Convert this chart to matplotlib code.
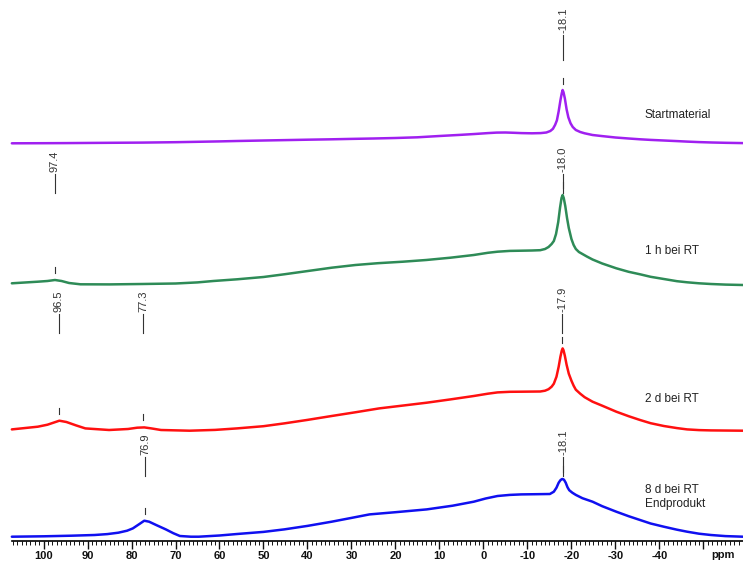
import numpy as np
import matplotlib
matplotlib.use("Agg")
import matplotlib.pyplot as plt

plt.rcParams['font.family'] = ['Liberation Sans', 'DejaVu Sans']

# ---------------- data (ppm, intensity above each trace's baseline) ----------------
ppm_start = [107.2, 100, 95, 85, 77.6, 70, 65, 60, 56, 50, 45, 40, 34.5, 30, 25, 20, 15, 10, 5, 2,
             -1, -3, -5, -7, -8.6, -11, -13, -14.3, -15.2, -15.8, -16.3, -16.7, -17.1, -17.5, -17.8,
             -18.0, -18.2, -18.5, -18.9, -19.3, -19.8, -20.3, -21, -22, -23, -24.8, -27, -30, -33,
             -35.6, -38, -41, -44, -46.3, -49, -52, -55, -59]
int_start = [0, 0.1, 0.2, 0.5, 0.7, 1.1, 1.5, 1.9, 2.3, 2.8, 3.2, 3.6, 4.0, 4.4, 4.8, 5.3, 6.0, 7.3, 8.5, 9.3,
             10.2, 10.7, 10.8, 10.5, 10.2, 10.0, 10.2, 10.8, 12.3, 14.5, 18.5, 23, 32, 43, 50,
             53.3, 51, 45, 34, 26, 20, 16.3, 13.3, 11.3, 10.0, 8.3, 7.2, 5.8, 4.8,
             4.0, 3.4, 2.8, 2.2, 1.7, 1.2, 0.8, 0.5, 0.2]

ppm_1h = [107.2, 101.3, 99.1, 97.4, 95.9, 94.2, 91.6, 85, 77.6, 70, 65, 61.4, 56.0, 50, 45.3, 39.9, 34.5,
          29.1, 24, 18.3, 13, 7.5, 2.2, -1, -3.2, -6, -8.6, -11, -12.9, -14, -14.8, -15.5, -16.0, -16.5,
          -17.0, -17.4, -17.75, -18.0, -18.25, -18.6, -19.0, -19.4, -20, -20.5, -21, -21.7, -22.5, -23.5,
          -24.8, -27, -30.2, -33, -35.6, -38, -41, -44, -46.3, -49, -51.7, -55, -59]
int_1h = [1.7, 3.3, 4.0, 5.0, 4.0, 2.0, 0.7, 0.6, 1.0, 1.5, 2.6, 4.0, 5.7, 8.0, 10.7, 14.0, 17.3,
          20.0, 21.8, 23.3, 25.0, 27.3, 30.0, 32.2, 33.3, 34.1, 34.3, 34.5, 34.8, 36, 38, 41, 44, 51,
          63, 77, 87, 90, 87, 79, 67, 57, 46, 40, 36, 33, 31, 28.5,
          25.5, 21.5, 16.7, 13.2, 10.7, 8.2, 6.0, 3.8, 2.7, 1.7, 1.0, 0.4, 0]

ppm_2d = [107.2, 101.3, 99.1, 96.4, 94.8, 92.6, 90.5, 85.1, 80.8, 78.7, 77.1, 75.5, 73.3, 66.8, 61, 56.0,
          50, 45.3, 40, 34.5, 29, 23.7, 18, 12.9, 7.5, 2.2, -1, -3.2, -6, -8.6, -12.9, -14, -14.8, -15.5,
          -16.0, -16.6, -17.1, -17.5, -17.8, -18.0, -18.2, -18.5, -18.9, -19.4, -20, -20.5, -21, -22, -23,
          -24.8, -27, -30.2, -33, -35.6, -38, -41, -44, -46.3, -49, -51.7, -59]
int_2d = [1.3, 4.0, 6.0, 10.0, 8.7, 5.3, 2.3, 0.7, 1.7, 3.0, 3.3, 2.3, 0.7, 0, 0.8, 2.3,
          4.5, 7.3, 10.8, 14.7, 18.5, 22.3, 25.3, 28.0, 31.3, 34.7, 37.0, 38.3, 38.9, 39.0, 39.2, 40, 41.5, 44,
          47, 54, 64, 74, 80, 82.3, 80.5, 75, 66, 57, 50, 45, 41, 37, 33.5,
          29.0, 25, 19.0, 14.5, 10.7, 7.5, 4.7, 2.6, 1.3, 0.6, 0.3, 0]

ppm_8d = [107.2, 100, 93.7, 88.4, 85.5, 83.0, 81, 79.7, 78.2, 77.1, 76.0, 74.4, 72.2, 70.5, 69.0, 66.5,
          64.7, 60, 56.0, 50, 45.3, 40, 34.5, 30, 25.9, 20, 12.9, 7, 2.2, -0.5, -3.2, -6, -8.6, -12,
          -15.1, -16.0, -16.6, -17.1, -17.5, -17.8, -18.0, -18.3, -18.7, -19.1, -19.5, -20.2, -21, -22.5,
          -24.8, -27, -30.2, -33, -35.6, -38, -41, -44, -46.3, -49, -51.7, -55, -59]
int_8d = [0, 0.4, 1.0, 1.7, 2.6, 4.0, 6.0, 8.3, 12.7, 16.0, 15.0, 11.7, 7.3, 3.5, 0.7, 0,
          0, 1.2, 2.7, 4.8, 7.3, 10.8, 15.0, 18.8, 22.3, 24.5, 27.3, 31.0, 35.0, 38.2, 40.7, 41.8, 42.3, 42.5,
          42.7, 45, 49, 54, 56.5, 57.5, 57.7, 57, 54, 49.5, 46.5, 44, 41.8, 38.5,
          35.0, 30.5, 25.0, 20.5, 16.7, 13.2, 10.0, 7.0, 5.0, 3.0, 1.7, 0.6, 0]

names = ["Startmaterial", "1 h bei RT", "2 d bei RT", "8 d bei RT\nEndprodukt"]
peaks_start = [-18.1]
peaks_1h = [97.4, -18.0]
peaks_2d = [96.5, 77.3, -17.9]
peaks_8d = [76.9, -18.1]

tick_vals = list(range(-50, 101, 10))

# ---------------- layout ----------------
colors = ["#A020F0", "#2E8B57", "#FF1010", "#1010F0"]
offsets = [397.7, 256.0, 110.3, 4.3]          # baseline of each trace (axis units)
label_row = [508, 369, 229, 86]               # bottom of rotated peak labels
line_len = [25, 19, 19, 19]
name_y = [[423], [287], [139], [48, 34]]

W, H = 743, 562
fig = plt.figure(figsize=(W / 100, H / 100), dpi=100)
ax = fig.add_axes([11.85 / W, 21 / H, (W - 11.85) / W, 541 / H])
ax.set_xlim(107.2, -59.0)
ax.set_ylim(0, 541)

series = [(ppm_start, int_start, peaks_start), (ppm_1h, int_1h, peaks_1h),
          (ppm_2d, int_2d, peaks_2d), (ppm_8d, int_8d, peaks_8d)]

for i, (px, iy, pk) in enumerate(series):
    px = np.asarray(px, float)
    iy = np.asarray(iy, float)
    ax.plot(px, offsets[i] + iy, color=colors[i], lw=1.8, solid_joinstyle='round',
            solid_capstyle='round', clip_on=False)
    for p in pk:
        ax.text(p, label_row[i], f"{p:.1f}", rotation=90, ha='center', va='bottom',
                fontsize=8, color='#333333')
        ax.plot([p, p], [label_row[i] - 2, label_row[i] - 2 - line_len[i]], color='#333333', lw=0.8)
        top = np.interp(p, px[::-1], iy[::-1]) + offsets[i]
        ax.plot([p, p], [top + 7, top + 13], color='#333333', lw=0.8)
    parts = names[i].split("\n")
    for t, yy in zip(parts, name_y[i]):
        ax.text(-36.7, yy, t, ha='left', va='baseline', fontsize=8.5, color='#222222')

# ---------------- axis ----------------
for s in ['top', 'left', 'right']:
    ax.spines[s].set_visible(False)
ax.spines['bottom'].set_linewidth(1.2)
ax.set_yticks([])
ax.set_xticks(tick_vals, ["" if v < -45 else str(v) for v in tick_vals],
              fontweight='bold', fontsize=8)
ax.set_xticks(np.arange(-59, 108, 1), minor=True)
ax.tick_params(axis='x', which='major', length=6, width=1.0, pad=1.5, colors='#111111')
ax.tick_params(axis='x', which='minor', length=3, width=0.7, colors='#111111')
ax.text(-51.7, -14, "ppm", ha='left', va='center', fontsize=8, fontweight='bold',
        color='#111111', clip_on=False)

fig.savefig("out.png", dpi=100)
